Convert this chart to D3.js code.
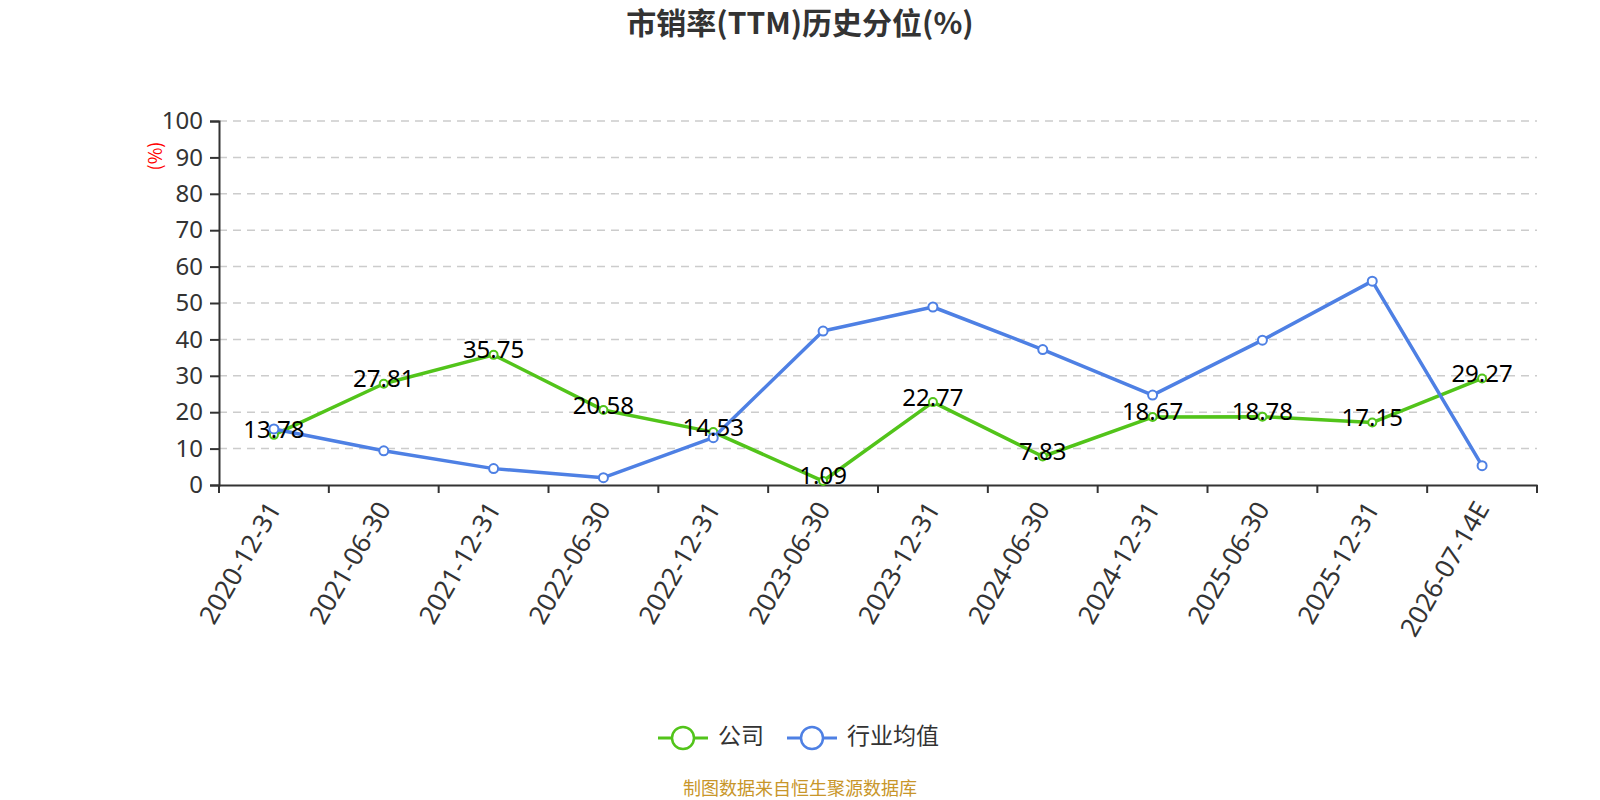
<!DOCTYPE html>
<html>
<head>
<meta charset="utf-8">
<script src="https://cdn.jsdelivr.net/npm/d3@7"></script>
<style>
  body { margin: 0; background: #fff; }
  svg { display: block; font-family: "Noto Sans CJK SC", "Noto Sans", sans-serif; }
</style>
</head>
<body>
<svg id="chart"></svg>
<script>
// Данные
const categories = ["2020-12-31", "2021-06-30", "2021-12-31", "2022-06-30", "2022-12-31", "2023-06-30",
    "2023-12-31", "2024-06-30", "2024-12-31", "2025-06-30", "2025-12-31", "2026-07-14E"];
const companyValues = [13.78, 27.81, 35.75, 20.58, 14.53, 1.09, 22.77, 7.83, 18.67, 18.78, 17.15, 29.27];
const industryValues = [15.4, 9.4, 4.5, 2.0, 13.0, 42.3, 48.9, 37.2, 24.7, 39.8, 56.0, 5.3];
const yTicks = [0, 10, 20, 30, 40, 50, 60, 70, 80, 90, 100];
const seriesNames = ["公司", "行业均值"];

const width = 1600;
const height = 800;
const margin = { top: 121, right: 63, bottom: 315, left: 219 };

const green = "#52c41a";
const blue = "#4e80e4";

const svg = d3.select("#chart").attr("width", width).attr("height", height);

const x = d3.scaleBand()
    .domain(categories)
    .range([margin.left, width - margin.right]);

const y = d3.scaleLinear()
    .domain([0, 100])
    .range([height - margin.bottom, margin.top]);

// title
svg.append("text")
    .attr("x", width / 2)
    .attr("y", 34)
    .attr("text-anchor", "middle")
    .attr("font-size", 30)
    .attr("font-weight", "bold")
    .attr("fill", "#333")
    .text("市销率(TTM)历史分位(%)");

// grid
svg.append("g")
    .selectAll("line")
    .data(yTicks.filter(d => d > 0))
    .join("line")
    .attr("x1", margin.left)
    .attr("x2", width - margin.right)
    .attr("y1", d => y(d))
    .attr("y2", d => y(d))
    .attr("stroke", "#ccc")
    .attr("stroke-width", 1.5)
    .attr("stroke-dasharray", "8,6");

// y axis
const yAxis = svg.append("g")
    .attr("transform", `translate(${margin.left},0)`)
    .call(d3.axisLeft(y).tickValues(yTicks).tickSize(9).tickPadding(7));
yAxis.select(".domain").attr("stroke", "#333").attr("stroke-width", 2);
yAxis.selectAll(".tick line").attr("stroke", "#333").attr("stroke-width", 2);
yAxis.selectAll("text")
    .attr("font-size", 24)
    .attr("fill", "#333")
    .attr("font-family", "'Noto Sans', sans-serif");

// y axis name
svg.append("text")
    .attr("transform", `translate(157,156) rotate(-90)`)
    .attr("text-anchor", "middle")
    .attr("dominant-baseline", "middle")
    .attr("font-size", 18)
    .attr("fill", "red")
    .text("(%)");

// x axis
const xAxis = svg.append("g")
    .attr("transform", `translate(0,${y(0)})`)
    .call(d3.axisBottom(x).tickSize(0).tickFormat(""));
xAxis.select(".domain").attr("stroke", "#333").attr("stroke-width", 2);

svg.append("g")
    .selectAll("line")
    .data(categories.map(d => x(d)).concat([x.range()[1]]))
    .join("line")
    .attr("x1", d => d).attr("x2", d => d)
    .attr("y1", y(0)).attr("y2", y(0) + 8)
    .attr("stroke", "#333")
    .attr("stroke-width", 2);

svg.append("g")
    .selectAll("text")
    .data(categories)
    .join("text")
    .attr("transform", d => `translate(${x(d) + x.bandwidth() / 2 + 2},${y(0) + 20}) rotate(-60)`)
    .attr("text-anchor", "end")
    .attr("dominant-baseline", "middle")
    .attr("font-size", 26)
    .attr("fill", "#333")
    .attr("font-family", "'Noto Sans', sans-serif")
    .text(d => d);

const cx = (d, i) => x(categories[i]) + x.bandwidth() / 2;
const line = d3.line().x(cx).y(d => y(d));

function drawSeries(values, color, r) {
    svg.append("path")
        .datum(values)
        .attr("fill", "none")
        .attr("stroke", color)
        .attr("stroke-width", 3.5)
        .attr("stroke-linejoin", "round")
        .attr("d", line);
    svg.append("g")
        .selectAll("circle")
        .data(values)
        .join("circle")
        .attr("cx", cx)
        .attr("cy", d => y(d))
        .attr("r", r)
        .attr("fill", "#fff")
        .attr("stroke", color)
        .attr("stroke-width", 2);
}

drawSeries(companyValues, green, 4);
drawSeries(industryValues, blue, 4.5);

// labels for company
svg.append("g")
    .selectAll("text")
    .data(companyValues)
    .join("text")
    .attr("x", cx)
    .attr("y", d => y(d) - 3)
    .attr("text-anchor", "middle")
    .attr("dominant-baseline", "middle")
    .attr("font-size", 24)
    .attr("fill", "#000")
    .attr("font-family", "'Noto Sans', sans-serif")
    .text(d => d.toFixed(2));

// legend
const legend = svg.append("g").attr("transform", `translate(0,${738})`);
const legendItems = [
    { name: seriesNames[0], color: green, x0: 658 },
    { name: seriesNames[1], color: blue, x0: 787 }
];
legendItems.forEach(it => {
    legend.append("line")
        .attr("x1", it.x0).attr("x2", it.x0 + 50)
        .attr("y1", 0).attr("y2", 0)
        .attr("stroke", it.color)
        .attr("stroke-width", 3);
    legend.append("circle")
        .attr("cx", it.x0 + 25).attr("cy", 0).attr("r", 11)
        .attr("fill", "#fff")
        .attr("stroke", it.color)
        .attr("stroke-width", 2.5);
    legend.append("text")
        .attr("x", it.x0 + 60)
        .attr("y", 0)
        .attr("dominant-baseline", "middle")
        .attr("font-size", 23)
        .attr("fill", "#333")
        .text(it.name);
});

// source
svg.append("text")
    .attr("x", width / 2)
    .attr("y", 790)
    .attr("text-anchor", "middle")
    .attr("dominant-baseline", "middle")
    .attr("font-size", 18)
    .attr("fill", "#c8962a")
    .text("制图数据来自恒生聚源数据库");
</script>
</body>
</html>
